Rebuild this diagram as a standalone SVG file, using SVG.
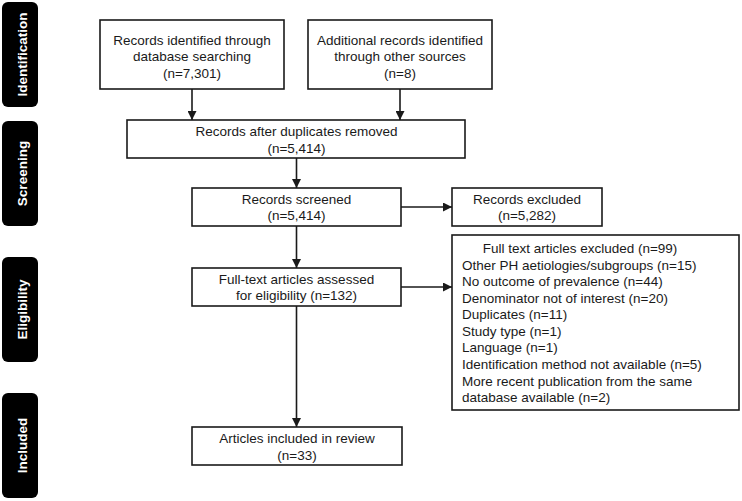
<svg xmlns="http://www.w3.org/2000/svg" width="742" height="501" viewBox="0 0 742 501">
<defs>
<style>
.box{fill:#fff;stroke:#1a1a1a;stroke-width:1.6}
.t{font-family:"Liberation Sans",Arial,Helvetica,sans-serif;font-size:13.5px;fill:#1a1a1a}
.c{text-anchor:middle}
.lab{fill:#000}
.lt{font-family:"Liberation Sans",Arial,Helvetica,sans-serif;font-size:13.5px;font-weight:bold;fill:#fff;text-anchor:middle}
.con{stroke:#1a1a1a;stroke-width:1.6;fill:none;marker-end:url(#ah)}
</style>
<marker id="ah" viewBox="0 0 10 10" refX="10" refY="5" markerWidth="9" markerHeight="9" markerUnits="userSpaceOnUse" orient="auto">
<path d="M0,0 L10,5 L0,10 z" fill="#1a1a1a"/>
</marker>
</defs>
<rect width="742" height="501" fill="#fff"/>

<g id="stage-identification">
<rect class="lab" x="2" y="2" width="36" height="105" rx="6"/>
<text class="lt" transform="translate(26.5,54.5) rotate(-90)">Identification</text>
</g>
<g id="stage-screening">
<rect class="lab" x="2" y="121" width="36" height="105" rx="6"/>
<text class="lt" transform="translate(26.5,173.5) rotate(-90)">Screening</text>
</g>
<g id="stage-eligibility">
<rect class="lab" x="2" y="257" width="36" height="105" rx="6"/>
<text class="lt" transform="translate(26.5,309.5) rotate(-90)">Eligibility</text>
</g>
<g id="stage-included">
<rect class="lab" x="2" y="393" width="36" height="105" rx="6"/>
<text class="lt" transform="translate(26.5,445.5) rotate(-90)">Included</text>
</g>

<g id="connectors">
<line class="con" x1="192" y1="89" x2="192" y2="120"/>
<line class="con" x1="400" y1="89" x2="400" y2="120"/>
<line class="con" x1="296.5" y1="158" x2="296.5" y2="188"/>
<line class="con" x1="401" y1="207" x2="452" y2="207"/>
<line class="con" x1="296.5" y1="226" x2="296.5" y2="268"/>
<line class="con" x1="401" y1="287" x2="452" y2="287"/>
<line class="con" x1="296.5" y1="306" x2="296.5" y2="427"/>
</g>

<g id="db-search">
<rect class="box" x="100" y="20" width="184" height="69"/>
<text class="t c" x="192" y="44.5">Records identified through</text>
<text class="t c" x="192" y="61">database searching</text>
<text class="t c" x="192" y="77.5">(n=7,301)</text>
</g>
<g id="other-sources">
<rect class="box" x="308" y="20" width="184" height="69"/>
<text class="t c" x="400" y="44.5">Additional records identified</text>
<text class="t c" x="400" y="61">through other sources</text>
<text class="t c" x="400" y="77.5">(n=8)</text>
</g>
<g id="dedup">
<rect class="box" x="127" y="120" width="338" height="38"/>
<text class="t c" x="296.5" y="136">Records after duplicates removed</text>
<text class="t c" x="296.5" y="152.5">(n=5,414)</text>
</g>
<g id="screened">
<rect class="box" x="192" y="188" width="209" height="38"/>
<text class="t c" x="296.5" y="203.5">Records screened</text>
<text class="t c" x="296.5" y="220">(n=5,414)</text>
</g>
<g id="excluded">
<rect class="box" x="452" y="188" width="150" height="38"/>
<text class="t c" x="527" y="203.5">Records excluded</text>
<text class="t c" x="527" y="220">(n=5,282)</text>
</g>
<g id="fulltext">
<rect class="box" x="192" y="268" width="209" height="38"/>
<text class="t c" x="296.5" y="283.5">Full-text articles assessed</text>
<text class="t c" x="296.5" y="300">for eligibility (n=132)</text>
</g>
<g id="fulltext-excluded">
<rect class="box" x="452" y="235" width="287" height="175"/>
<text class="t c" x="580" y="253">Full text articles excluded (n=99)</text>
<text class="t" x="462" y="269.6">Other PH aetiologies/subgroups (n=15)</text>
<text class="t" x="462" y="286.1">No outcome of prevalence (n=44)</text>
<text class="t" x="462" y="302.7">Denominator not of interest (n=20)</text>
<text class="t" x="462" y="319.2">Duplicates (n=11)</text>
<text class="t" x="462" y="335.8">Study type (n=1)</text>
<text class="t" x="462" y="352.4">Language (n=1)</text>
<text class="t" x="462" y="368.9">Identification method not available (n=5)</text>
<text class="t" x="462" y="385.5">More recent publication from the same</text>
<text class="t" x="462" y="402">database available (n=2)</text>
</g>
<g id="included">
<rect class="box" x="192" y="427" width="210" height="38"/>
<text class="t c" x="297" y="443">Articles included in review</text>
<text class="t c" x="297" y="459.5">(n=33)</text>
</g>
</svg>
